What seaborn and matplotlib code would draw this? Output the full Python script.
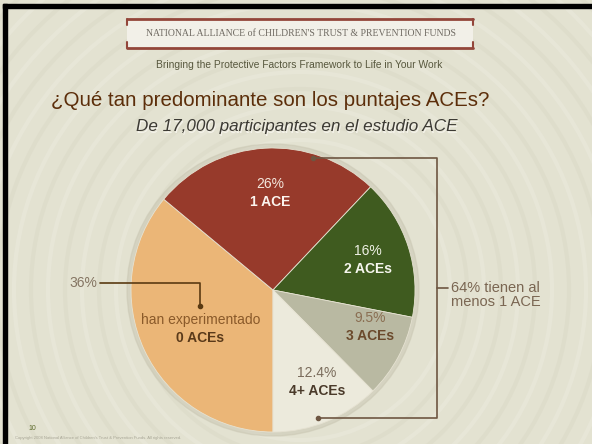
import matplotlib
matplotlib.use("Agg")
import matplotlib.pyplot as plt
import numpy as np
import seaborn as sns
from matplotlib import font_manager
from matplotlib.patches import Circle, Rectangle

# datos del estudio ACE
categorias = ["0 ACEs", "1 ACE", "2 ACEs", "3 ACEs", "4+ ACEs"]
porcentajes = [36, 26, 16, 9.5, 12.4]
texto_superior = ["han experimentado", "26%", "16%", "9.5%", "12.4%"]
pct_fuera = "36%"
grupo_texto = "64% tienen al\nmenos 1 ACE"

colores = ["#EBB677", "#973A2B", "#3F5B1F", "#B9B9A2", "#ECEADC"]
color_sup = ["#8A5A2A", "#F3E6DC", "#EEF0E4", "#8A6E52", "#7A6C5C"]
color_inf = ["#5A3A1A", "#FBF4EE", "#F6F6EE", "#6B4A2C", "#4A3A2A"]
dist_etiqueta = [0.58, 0.68, 0.70, 0.73, 0.72]
giro_etiqueta = [3, -1.5, 0, 7, 3]

sns.set_theme(style="white")
nombres = {f.name for f in font_manager.fontManager.ttflist}
estrecha = "Liberation Sans Narrow" if "Liberation Sans Narrow" in nombres else "Liberation Sans"
plt.rcParams["font.family"] = [estrecha, "Liberation Sans", "DejaVu Sans"]

W, H = 592, 444
def Y(p):  # pixeles desde arriba -> coordenada del eje
    return H - p

fig = plt.figure(figsize=(5.92, 4.44), dpi=100)
fig.patch.set_facecolor("#E3E2D1")
ax = fig.add_axes([0, 0, 1, 1])
ax.set_facecolor("#E3E2D1")

# fondo con anillos
for i, r in enumerate(np.arange(150, 560, 17)):
    c = "#ECEBE0" if i % 2 == 0 else "#D9D7C5"
    ax.add_patch(Circle((300, Y(290)), r, fill=False, ec=c, lw=3, alpha=0.45, zorder=0))

# sombra del pastel
cx, cy, R = 273, Y(290), 142
ax.add_patch(Circle((cx, cy), R + 4, color="#C9C6B2", alpha=0.5, zorder=1))

wedges, _ = ax.pie(porcentajes, colors=colores, startangle=270, counterclock=False,
                   center=(cx, cy), radius=R,
                   wedgeprops=dict(edgecolor="#E6E2D2", linewidth=0.6, zorder=2))

for w, d, g, t1, t2, c1, c2 in zip(wedges, dist_etiqueta, giro_etiqueta, texto_superior,
                                   categorias, color_sup, color_inf):
    th = np.deg2rad((w.theta1 + w.theta2) / 2 + g)
    x = cx + d * R * np.cos(th)
    y = cy + d * R * np.sin(th)
    ax.text(x, y + 9, t1, ha="center", va="center", fontsize=10, color=c1, zorder=5)
    ax.text(x, y - 9, t2, ha="center", va="center", fontsize=10, fontweight="bold", color=c2, zorder=5)

# corchete izquierdo (36%)
col_izq = "#5A3A12"
ax.text(97, Y(283), pct_fuera, ha="right", va="center", fontsize=10, color="#857563")
ax.plot([100, 200, 200], [Y(283), Y(283), Y(305)], color=col_izq, lw=1.2, zorder=6)
ax.plot([200], [Y(306)], "o", color=col_izq, ms=3, zorder=6)

# corchete derecho (64%)
col_der = "#6E5642"
ax.plot([313, 437, 437, 318], [Y(158), Y(158), Y(418), Y(418)], color=col_der, lw=1.2, zorder=6)
ax.plot([313, 318], [Y(158), Y(418)], "o", color=col_der, ms=3, zorder=6)
ax.plot([437, 448], [Y(288), Y(288)], color=col_der, lw=1.2, zorder=6)
ax.text(451, Y(281), grupo_texto, ha="left", va="top", fontsize=10.5, color="#7A6652",
        linespacing=1.0, zorder=6)

# titulos
ax.text(270, Y(100), "¿Qué tan predominante son los puntajes ACEs?", ha="center", va="center",
        fontsize=14.8, color="#5C2E0A")
ax.text(298, Y(127) - 1, "De 17,000 participantes en el estudio ACE", ha="center",
        va="center", fontsize=12.3, style="italic", color="#F4F2EA", family=["Liberation Sans"])
ax.text(297, Y(127), "De 17,000 participantes en el estudio ACE", ha="center",
        va="center", fontsize=12.3, style="italic", color="#3C3A34", family=["Liberation Sans"])

# encabezado
x0, x1, y0, y1 = 127, 473, 19, 48
col_banda = "#93463A"
ax.add_patch(Rectangle((x0, Y(y1)), x1 - x0, y1 - y0, fc="#F2F0E8", ec="none", zorder=3))
for yy in (y0, y1):
    ax.plot([x0, x1], [Y(yy), Y(yy)], color=col_banda, lw=2, zorder=4)
for xx in (x0, x1):
    ax.plot([xx, xx], [Y(y0), Y(y0 + 6)], color=col_banda, lw=1.5, zorder=4)
    ax.plot([xx, xx], [Y(y1 - 6), Y(y1)], color=col_banda, lw=1.5, zorder=4)
ax.text(301, Y(34), "NATIONAL ALLIANCE of CHILDREN'S TRUST & PREVENTION FUNDS", ha="center",
        va="center", fontsize=7.0, color="#6F6A62", family=["Liberation Serif"], zorder=5)
ax.text(299, Y(65), "Bringing the Protective Factors Framework to Life in Your Work", ha="center",
        va="center", fontsize=7.4, color="#58583E", zorder=5)

# pie de pagina
ax.text(28, Y(428), "10", ha="left", va="center", fontsize=5, color="#5C6A2A")
ax.text(15, Y(438), "Copyright 2008 National Alliance of Children's Trust & Prevention Funds. All rights reserved.",
        ha="left", va="center", fontsize=3, color="#A8A696")

# borde negro del marco
ax.add_patch(Rectangle((3, 0), 4, H - 4, color="black", zorder=10))
ax.add_patch(Rectangle((3, Y(8)), W, 4, color="black", zorder=10))

ax.set_xlim(0, W)
ax.set_ylim(0, H)
ax.set_aspect("auto")
ax.axis("off")

fig.savefig("out.png", dpi=100)
